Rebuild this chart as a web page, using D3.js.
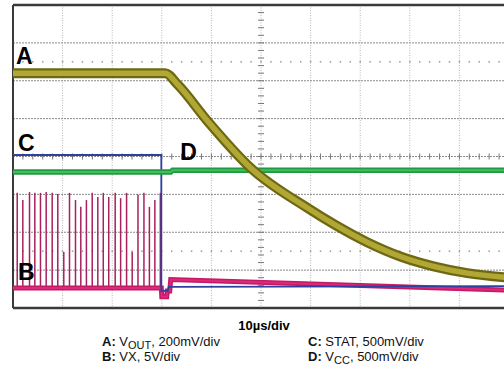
<!DOCTYPE html>
<html lang="en">
<head>
<meta charset="UTF-8">
<title>Scope capture</title>
<script src="https://d3js.org/d3.v7.min.js"></script>
<style>
  body { margin: 0; background: #fff; }
  svg text { font-family: "Liberation Sans", Arial, sans-serif; }
</style>
</head>
<body>
<svg id="scope" width="504" height="383"></svg>
<script>
    // time in µs, level in divisions (0 = bottom of screen, 8 = top)
    const traceA = [[0, 6.2], [30.7, 6.2], [33.2, 5.9], [39.2, 4.94], [47.9, 3.7], [59.4, 2.64],
        [64.6, 2.22], [71.5, 1.73], [78.1, 1.36], [84.8, 1.1], [91.6, 0.92], [100, 0.8]];
    const traceC = [[0, 4.04], [29.9, 4.04], [29.9, 0.45], [31.2, 0.45], [31.4, 0.56], [100, 0.58]];
    const traceD = [[0, 3.59], [31.8, 3.59], [32.2, 3.64], [100, 3.64]];
    const traceB = [[0, 0.53], [29.9, 0.53], [30.0, 0.3], [31.0, 0.3], [31.1, 0.45], [31.6, 0.45],
        [31.8, 0.75], [100, 0.47]];
    const spikeTimes = [0.85, 1.98, 3.33, 4.4, 5.54, 6.69, 7.9, 9.03, 10.24, 11.39, 12.6, 13.67, 14.8,
        15.97, 17.1, 18.2, 19.3, 20.6, 21.7, 22.9, 24.03, 25.2, 26.4, 27.5, 28.6, 29.7];
    const spikeTops = [3.04, 2.85, 3.06, 3.04, 3.04, 3.06, 3.04, 3.01, 1.48, 3.04, 2.85, 2.67, 2.85,
        3.04, 2.93, 3.04, 2.93, 3.04, 2.9, 3.04, 1.48, 3.0, 3.04, 2.67, 2.85, 3.04];

    const labels = [
        {name: "A", t: 0.6, v: 6.45},
        {name: "C", t: 1.0, v: 4.15},
        {name: "D", t: 33.7, v: 3.9},
        {name: "B", t: 1.0, v: 0.75}
    ];
    const timeBase = "10µs/div";
    // each legend entry: [bold prefix, text, subscript, rest]
    const legend = [
        ["A: ", "V", "OUT", ", 200mV/div"],
        ["C: ", "STAT, 500mV/div", "", ""],
        ["B: ", "VX, 5V/div", "", ""],
        ["D: ", "V", "CC", ", 500mV/div"]
    ];

    const svg = d3.select("#scope");
    const padL = 13, padT = 5, divW = 49.6, divH = 37.875;
    const x = d3.scaleLinear().domain([0, 100]).range([padL, padL + 10 * divW]);
    const y = d3.scaleLinear().domain([0, 8]).range([padT + 8 * divH, padT]);

    const grid = svg.append("g");
    // vertical divisions
    grid.selectAll(".vg").data(d3.range(10, 100, 10)).enter().append("line")
        .attr("x1", d => x(d)).attr("x2", d => x(d))
        .attr("y1", y(8)).attr("y2", y(0))
        .attr("stroke", "#b5b5b5").attr("stroke-width", 1).attr("stroke-dasharray", "1,1.5");
    // horizontal divisions
    grid.selectAll(".hg").data(d3.range(1, 8)).enter().append("line")
        .attr("x1", x(0)).attr("x2", x(100))
        .attr("y1", d => y(d)).attr("y2", d => y(d))
        .attr("stroke", "#8a8a8a").attr("stroke-width", 1).attr("stroke-dasharray", "2,1");
    // dotted marker rows
    [6.5, 1.5].forEach(v => {
        grid.selectAll(null).data(d3.range(2, 100, 2)).enter().append("rect")
            .attr("x", d => x(d) - 0.75).attr("y", y(v) - 0.75)
            .attr("width", 1.5).attr("height", 1.5).attr("fill", "#9a9a9a");
    });
    // centre cross ticks
    grid.selectAll(".ht").data(d3.range(2, 100, 2)).enter().append("line")
        .attr("x1", d => x(d)).attr("x2", d => x(d))
        .attr("y1", y(4) - 3).attr("y2", y(4) + 3)
        .attr("stroke", "#777").attr("stroke-width", 1);
    grid.selectAll(".vt").data(d3.range(0.2, 8, 0.2)).enter().append("line")
        .attr("x1", x(50) - 3).attr("x2", x(50) + 3)
        .attr("y1", d => y(d)).attr("y2", d => y(d))
        .attr("stroke", "#777").attr("stroke-width", 1);
    // border
    grid.append("line").attr("x1", x(0)).attr("x2", 504).attr("y1", y(8)).attr("y2", y(8))
        .attr("stroke", "#3a3a3a").attr("stroke-width", 2.5);
    grid.append("line").attr("x1", x(0)).attr("x2", 504).attr("y1", y(0)).attr("y2", y(0))
        .attr("stroke", "#3a3a3a").attr("stroke-width", 2.5);
    grid.append("line").attr("x1", x(0)).attr("x2", x(0)).attr("y1", y(8)).attr("y2", y(0))
        .attr("stroke", "#3a3a3a").attr("stroke-width", 2);

    const line = d3.line().x(d => x(d[0])).y(d => y(d[1]));
    const smooth = d3.line().x(d => x(d[0])).y(d => y(d[1])).curve(d3.curveMonotoneX);
    const traces = svg.append("g").attr("fill", "none");

    // B: switch node spikes and baseline
    traces.selectAll(".spike").data(spikeTimes).enter().append("line")
        .attr("x1", d => x(d)).attr("x2", d => x(d))
        .attr("y1", y(0.53)).attr("y2", (d, i) => y(spikeTops[i]))
        .attr("stroke", "#a8205e").attr("stroke-width", 1.5);
    traces.append("path").datum(traceB).attr("d", line)
        .attr("stroke", "#c21a64").attr("stroke-width", 5);
    traces.append("path").datum(traceB).attr("d", line)
        .attr("stroke", "#e0287a").attr("stroke-width", 2);

    // C: STAT
    traces.append("path").datum(traceC).attr("d", line)
        .attr("stroke", "#2e3f9e").attr("stroke-width", 1.8);

    // D: VCC
    traces.append("path").datum(traceD).attr("d", line)
        .attr("stroke", "#1f9a42").attr("stroke-width", 5.5);
    traces.append("path").datum(traceD).attr("d", line)
        .attr("stroke", "#43bd5c").attr("stroke-width", 2);

    // A: VOUT
    traces.append("path").datum(traceA).attr("d", smooth)
        .attr("stroke", "#6e6812").attr("stroke-width", 10);
    traces.append("path").datum(traceA).attr("d", smooth)
        .attr("stroke", "#b0a734").attr("stroke-width", 5.5);

    // trace letters
    svg.selectAll(".lbl").data(labels).enter().append("text")
        .attr("x", d => x(d.t)).attr("y", d => y(d.v))
        .attr("font-size", 23).attr("font-weight", "bold").attr("fill", "#000")
        .text(d => d.name);

    svg.append("text").attr("x", 264).attr("y", 330)
        .attr("text-anchor", "middle").attr("font-size", 13).attr("font-weight", "bold")
        .text(timeBase);

    const legX = [102, 308], legY = [346, 361];
    legend.forEach((e, i) => {
        const t = svg.append("text")
            .attr("x", legX[i % 2]).attr("y", legY[Math.floor(i / 2)])
            .attr("font-size", 13).attr("fill", "#111");
        t.append("tspan").attr("font-weight", "bold").text(e[0]);
        t.append("tspan").text(e[1]);
        if (e[2]) {
            t.append("tspan").attr("font-size", 11).attr("dy", 2.5).text(e[2]);
            t.append("tspan").attr("dy", -2.5).text(e[3]);
        }
    });
</script>
</body>
</html>
